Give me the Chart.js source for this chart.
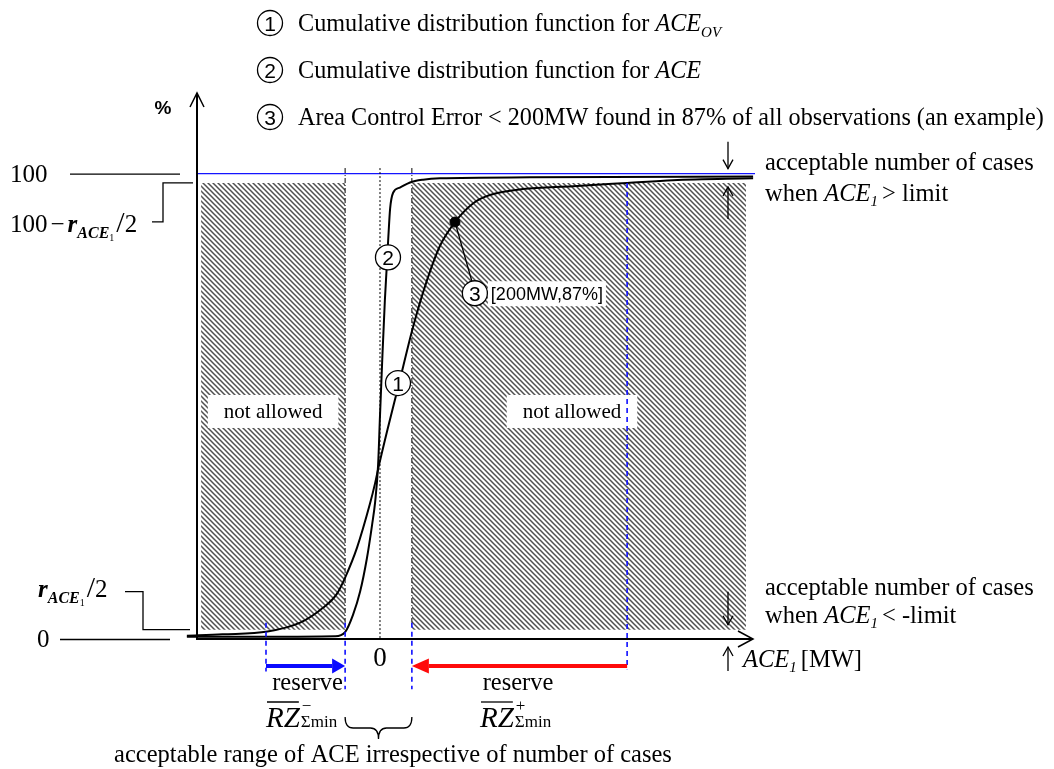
<!DOCTYPE html>
<html><head><meta charset="utf-8">
<script src="https://cdn.jsdelivr.net/npm/chart.js@4"></script>
<style>html,body{margin:0;padding:0;background:#fff}canvas{display:block}</style>
</head><body>
<canvas id="c" width="1054" height="769"></canvas>
<script>
// ---------- data ----------
const aceOvX = [-515,-420,-300,-213,-152,-115,-93,-61,-27,-13,-5,20,48,88,125,160,200,248,293,381,515,659,781,995];
const aceOvY = [0.7,1.0,1.6,3.5,6.7,9.7,13.2,19.7,29.0,33.5,36.5,45,54,67,77,84.5,89.6,93.6,95.4,96.7,97.3,98.0,98.6,99.0];
const aceX = [-515,-300,-120,-93,-72,-53,-35,-21,-13,-5,0,6,13,18,22,27,35,53,80,115,160,400,995];
const aceY = [0.5,0.5,0.6,1.5,5.2,10.2,17.3,24.6,29.4,37.5,48,60,72.8,80,86,92.5,95.9,97.0,98.1,98.7,99.0,99.2,99.4];
const markerX = [200];
const markerY = [89.6];
const markerLabel = '[200MW,87%]';
const rHalf = 2;                 // r_ACE1 / 2  (percent)
const limitNeg = -93, limitPos = 85;          // acceptable range of ACE
const reserveNeg = -304, reservePos = 659;    // reserve limits
const hatchLeftX = [-477, limitNeg];
const hatchRightX = [limitPos, 976];
const xTickLabels = [{v:0, t:'0'}];
const yTickLabels = [{v:0, t:'0'}, {v:100, t:'100'}];
const legendItems = [
  {n:'1', runs:[['Cumulative distribution function for ',''],['ACE','italic'],['OV','sub']]},
  {n:'2', runs:[['Cumulative distribution function for ',''],['ACE','italic']]},
  {n:'3', runs:[['Area Control Error < 200MW found in 87% of all observations (an example)','']]}
];

// ---------- helpers ----------
const SERIF = '"Liberation Serif","Times New Roman",serif';
const SANS = '"Liberation Sans",Arial,sans-serif';
const F = (sz, st) => `${st||'normal'} ${sz}px ${SERIF}`;
const FS = (sz, st) => `${st||'normal'} ${sz}px ${SANS}`;

function rich(ctx, runs, x, y, align) {
  let w = 0;
  for (const r of runs) { ctx.font = r.f; r.w = (r.pre||0) + ctx.measureText(r.t).width + (r.post||0); w += r.w; }
  let cx = align==='center' ? x - w/2 : align==='right' ? x - w : x;
  ctx.textAlign = 'left'; ctx.textBaseline = 'alphabetic';
  for (const r of runs) { ctx.font = r.f; ctx.fillText(r.t, cx + (r.pre||0), y + (r.dy||0)); cx += r.w; }
  return w;
}
function line(ctx, pts, color, lw, dash) {
  ctx.save(); ctx.strokeStyle = color; ctx.lineWidth = lw; ctx.setLineDash(dash||[]);
  ctx.beginPath(); ctx.moveTo(pts[0][0], pts[0][1]);
  for (let i=1;i<pts.length;i++) ctx.lineTo(pts[i][0], pts[i][1]);
  ctx.stroke(); ctx.restore();
}
function openArrow(ctx, x, y1, y2) {
  const d = y2 > y1 ? -1 : 1;
  line(ctx, [[x,y1],[x,y2]], '#000', 1.3);
  line(ctx, [[x-5,y2+d*9],[x,y2],[x+5,y2+d*9]], '#000', 1.3);
}
function solidArrow(ctx, x1, x2, y, color, lw, hl, hw) {
  const d = x2 > x1 ? 1 : -1;
  line(ctx, [[x1,y],[x2 - d*hl, y]], color, lw);
  ctx.save(); ctx.fillStyle = color; ctx.beginPath();
  ctx.moveTo(x2, y); ctx.lineTo(x2 - d*hl, y - hw); ctx.lineTo(x2 - d*hl, y + hw); ctx.closePath(); ctx.fill(); ctx.restore();
}
function circ(ctx, x, y, label, r) {
  ctx.save();
  ctx.beginPath(); ctx.arc(x, y, r||12.5, 0, Math.PI*2);
  ctx.fillStyle = '#fff'; ctx.fill();
  ctx.strokeStyle = '#000'; ctx.lineWidth = 1.3; ctx.stroke();
  ctx.fillStyle = '#000'; ctx.font = FS(21); ctx.textAlign = 'center'; ctx.textBaseline = 'alphabetic';
  ctx.fillText(label, x, y + 7.5);
  ctx.restore();
}
function drawRZ(ctx, x, base, sign) {
  ctx.fillStyle = '#000';
  ctx.font = F(29, 'italic'); const wR = ctx.measureText('RZ').width;
  ctx.textAlign = 'left'; ctx.textBaseline = 'alphabetic';
  ctx.fillText('RZ', x, base);
  line(ctx, [[x + 1, base - 25], [x + wR - 1, base - 25]], '#000', 1.3);
  ctx.font = F(17); ctx.fillText('\u03A3min', x + wR + 1, base);
  ctx.font = F(17); ctx.fillText(sign, x + wR + 2, base - 16);
}
function brace(ctx, x1, x2, y) {
  const xm = (x1 + x2) / 2, h = 11, tip = 22;
  ctx.save(); ctx.strokeStyle = '#000'; ctx.lineWidth = 1.3;
  ctx.beginPath();
  ctx.moveTo(x1, y);
  ctx.quadraticCurveTo(x1, y + h, x1 + 8, y + h);
  ctx.lineTo(xm - 8, y + h);
  ctx.quadraticCurveTo(xm, y + h, xm, y + tip);
  ctx.quadraticCurveTo(xm, y + h, xm + 8, y + h);
  ctx.lineTo(x2 - 8, y + h);
  ctx.quadraticCurveTo(x2, y + h, x2, y);
  ctx.stroke(); ctx.restore();
}

const canvas = document.getElementById('c');
const ctx0 = canvas.getContext('2d');
function makeHatch() {
  const s = 5;
  const c = document.createElement('canvas'); c.width = s; c.height = s;
  const g = c.getContext('2d');
  g.fillStyle = '#fff'; g.fillRect(0, 0, s, s);
  g.strokeStyle = '#505050'; g.lineWidth = 1.5;
  g.beginPath();
  g.moveTo(-1, -1); g.lineTo(s + 1, s + 1);
  g.moveTo(-2, s - 2); g.lineTo(2, s + 2);
  g.moveTo(s - 2, -2); g.lineTo(s + 2, 2);
  g.stroke();
  return ctx0.createPattern(c, 'repeat');
}
const hatch = makeHatch();

// ---------- annotation plugin ----------
const annot = {
  id: 'annot',
  beforeDatasetsDraw(chart) {
    const ctx = chart.ctx, Y = v => chart.scales.y.getPixelForValue(v);
    const a = chart.chartArea;
    line(ctx, [[a.left, Y(100)], [a.right + 5, Y(100)]], '#1414ff', 1.3);
  },
  afterDatasetsDraw(chart) {
    const ctx = chart.ctx, X = v => chart.scales.x.getPixelForValue(v), Y = v => chart.scales.y.getPixelForValue(v);
    const a = chart.chartArea;
    ctx.save();
    ctx.fillStyle = '#000';

    // axes with arrows
    line(ctx, [[a.left, Y(0) + 1], [a.left, a.top - 2]], '#000', 2);
    line(ctx, [[a.left - 7, a.top + 12], [a.left, a.top - 2], [a.left + 7, a.top + 12]], '#000', 1.5);
    line(ctx, [[a.left - 1, Y(0)], [a.right + 3, Y(0)]], '#000', 2);
    line(ctx, [[a.right - 12, Y(0) - 8], [a.right + 3, Y(0)], [a.right - 12, Y(0) + 8]], '#000', 1.5);

    // "not allowed" labels
    ctx.font = F(21);
    const na = [[(hatchLeftX[0] + hatchLeftX[1]) / 2, 49], [512, 49]];
    for (const [vx, vy] of na) {
      const w = ctx.measureText('not allowed').width;
      ctx.fillStyle = '#fff';
      ctx.fillRect(X(vx) - w / 2 - 16, Y(vy) - 16, w + 32, 33);
      ctx.fillStyle = '#000'; ctx.textAlign = 'center';
      ctx.fillText('not allowed', X(vx), Y(vy) + 7);
    }

    // vertical reference lines
    const yTop = Y(101.2), ySplit = Y(3.5);
    line(ctx, [[X(limitNeg), yTop], [X(limitNeg), ySplit]], '#000', 1, [5, 2, 1, 2]);
    line(ctx, [[X(limitPos), yTop], [X(limitPos), ySplit]], '#000', 1, [5, 2, 1, 2]);
    line(ctx, [[X(0), yTop], [X(0), Y(0)]], '#000', 1, [2, 2]);
    line(ctx, [[X(limitNeg), ySplit], [X(limitNeg), Y(-10.8)]], '#1010ff', 1.6, [5, 4]);
    line(ctx, [[X(limitPos), ySplit], [X(limitPos), Y(-10.8)]], '#1010ff', 1.6, [5, 4]);
    line(ctx, [[X(reserveNeg), ySplit], [X(reserveNeg), Y(-7)]], '#1010ff', 1.6, [5, 4]);
    line(ctx, [[X(reservePos), Y(100 - rHalf)], [X(reservePos), Y(-6.5)]], '#1010ff', 1.6, [5, 4]);

    // reserve arrows
    const ya = Y(-5.8);
    solidArrow(ctx, X(reserveNeg), X(limitNeg), ya, '#0a0aff', 4, 13, 7.5);
    solidArrow(ctx, X(reservePos), X(limitPos), ya, '#ff0a0a', 4, 17, 7.5);

    // marker leader + label
    const mx = X(markerX[0]), my = Y(markerY[0]);
    const c3x = X(253), c3y = Y(74.3);
    line(ctx, [[mx, my], [c3x - 3, c3y - 12]], '#000', 1.3);
    ctx.font = FS(18);
    const lw = ctx.measureText(markerLabel).width;
    ctx.fillStyle = '#fff'; ctx.fillRect(c3x + 13, c3y - 12, lw + 6, 25);
    ctx.fillStyle = '#000'; ctx.textAlign = 'left';
    ctx.fillText(markerLabel, c3x + 16, c3y + 7);
    circ(ctx, c3x, c3y, '3');
    circ(ctx, X(48), Y(55), '1');
    circ(ctx, X(21.3), Y(82), '2');

    // legend
    legendItems.forEach((it, i) => {
      const cy = 23 + i * 47;
      circ(ctx, 270, cy, it.n);
      ctx.fillStyle = '#000';
      rich(ctx, it.runs.map(r => r[1] === 'sub' ? {t: r[0], f: F(15, 'italic'), dy: 6} : {t: r[0], f: F(24.2, r[1] || 'normal')}), 298, cy + 8, 'left');
    });

    // y axis unit
    ctx.font = FS(19, 'bold'); ctx.textAlign = 'center'; ctx.fillText('%', 163, 114);

    // left y labels
    for (const tl of yTickLabels) {
      ctx.font = F(25); ctx.textAlign = 'left';
      ctx.fillText(tl.t, tl.v === 0 ? 37 : 10, Y(tl.v) + 8);
      line(ctx, [[tl.v === 0 ? 60 : 70, Y(tl.v) + 0.5], [tl.v === 0 ? 170 : 180, Y(tl.v) + 0.5]], '#000', 1.3);
    }
    // 100 - r/2 label + bracket
    const yH = Y(100 - rHalf);
    line(ctx, [[152, yH + 39], [163, yH + 39], [163, yH], [193, yH]], '#000', 1.3);
    rich(ctx, [
      {t: '100', f: F(25)}, {t: '\u2212', f: F(25), pre: 3, post: 3},
      {t: 'r', f: F(25, 'italic bold')}, {t: 'ACE', f: F(16, 'italic bold'), dy: 6},
      {t: '1', f: F(10), dy: 9}, {t: '/', f: F(30), pre: 2}, {t: '2', f: F(25)}
    ], 10, yH + 49, 'left');
    // r/2 label + bracket
    const yL = Y(rHalf);
    line(ctx, [[125, yL - 38], [143, yL - 38], [143, yL], [190, yL]], '#000', 1.3);
    rich(ctx, [
      {t: 'r', f: F(25, 'italic bold')}, {t: 'ACE', f: F(16, 'italic bold'), dy: 6},
      {t: '1', f: F(10), dy: 9}, {t: '/', f: F(30), pre: 2}, {t: '2', f: F(25)}
    ], 38, yL - 33, 'left');

    // x tick label
    for (const tl of xTickLabels) {
      ctx.font = F(27); ctx.textAlign = 'center'; ctx.fillText(tl.t, X(tl.v), Y(0) + 27);
    }

    // right-side arrows
    const xr = 728;
    openArrow(ctx, xr, Y(100) - 32, Y(100) - 5);
    openArrow(ctx, xr, Y(100 - rHalf) + 36, Y(100 - rHalf) + 4);
    openArrow(ctx, xr, Y(rHalf) - 38, Y(rHalf) - 5);
    openArrow(ctx, xr, Y(0) + 32, Y(0) + 8);

    // right-side texts
    ctx.fillStyle = '#000';
    rich(ctx, [{t: 'acceptable number of cases', f: F(24.5)}], 765, 170, 'left');
    rich(ctx, [{t: 'when ', f: F(24.5)}, {t: 'ACE', f: F(24.5, 'italic')}, {t: '1', f: F(15, 'italic'), dy: 5, post: 4}, {t: '> limit', f: F(24.5)}], 765, 201, 'left');
    rich(ctx, [{t: 'acceptable number of cases', f: F(24.5)}], 765, 595, 'left');
    rich(ctx, [{t: 'when ', f: F(24.5)}, {t: 'ACE', f: F(24.5, 'italic')}, {t: '1', f: F(15, 'italic'), dy: 5, post: 4}, {t: '< -limit', f: F(24.5)}], 765, 623, 'left');
    rich(ctx, [{t: 'ACE', f: F(24.5, 'italic')}, {t: '1', f: F(15, 'italic'), dy: 5, post: 4}, {t: '[MW]', f: F(24.5)}], 743, 667, 'left');

    // reserve labels
    ctx.font = F(24.5); ctx.textAlign = 'center';
    ctx.fillText('reserve', (X(reserveNeg) + X(limitNeg)) / 2 + 2, 690);
    ctx.fillText('reserve', 518, 690);
    drawRZ(ctx, X(reserveNeg), 727, '\u2212');
    drawRZ(ctx, 480, 727, '+');

    // brace and bottom text
    brace(ctx, X(limitNeg), X(limitPos), 717);
    ctx.font = F(24.5); ctx.textAlign = 'center';
    ctx.fillText('acceptable range of ACE irrespective of number of cases', 393, 762);
    ctx.restore();
  }
};

new Chart(canvas, {
  type: 'line',
  data: {
    datasets: [
      {label: 'marker', data: markerX.map((x, i) => ({x, y: markerY[i]})), showLine: false, pointRadius: 5,
       pointBackgroundColor: '#000', pointBorderColor: '#000', order: 0},
      {label: 'ACE_OV', data: aceOvX.map((x, i) => ({x, y: aceOvY[i]})), borderColor: '#000', borderWidth: 2,
       pointRadius: 0, cubicInterpolationMode: 'monotone', fill: false, order: 1, clip: false},
      {label: 'ACE', data: aceX.map((x, i) => ({x, y: aceY[i]})), borderColor: '#000', borderWidth: 2,
       pointRadius: 0, cubicInterpolationMode: 'monotone', fill: false, order: 1, clip: false},
      {label: 'hatchL', data: hatchLeftX.map(x => ({x, y: 100 - rHalf})), fill: {value: rHalf},
       backgroundColor: hatch, borderColor: 'rgba(0,0,0,0)', borderWidth: 0, pointRadius: 0, order: 5},
      {label: 'hatchR', data: hatchRightX.map(x => ({x, y: 100 - rHalf})), fill: {value: rHalf},
       backgroundColor: hatch, borderColor: 'rgba(0,0,0,0)', borderWidth: 0, pointRadius: 0, order: 5}
    ]
  },
  options: {
    responsive: false, animation: false, events: [],
    layout: {padding: {left: 197, right: 304, top: 95, bottom: 130}},
    scales: {
      x: {type: 'linear', min: -488, max: 986.7, display: false},
      y: {type: 'linear', min: 0, max: 116.9, display: false}
    },
    plugins: {legend: {display: false}, tooltip: {enabled: false}}
  },
  plugins: [annot]
});
</script>
</body></html>
